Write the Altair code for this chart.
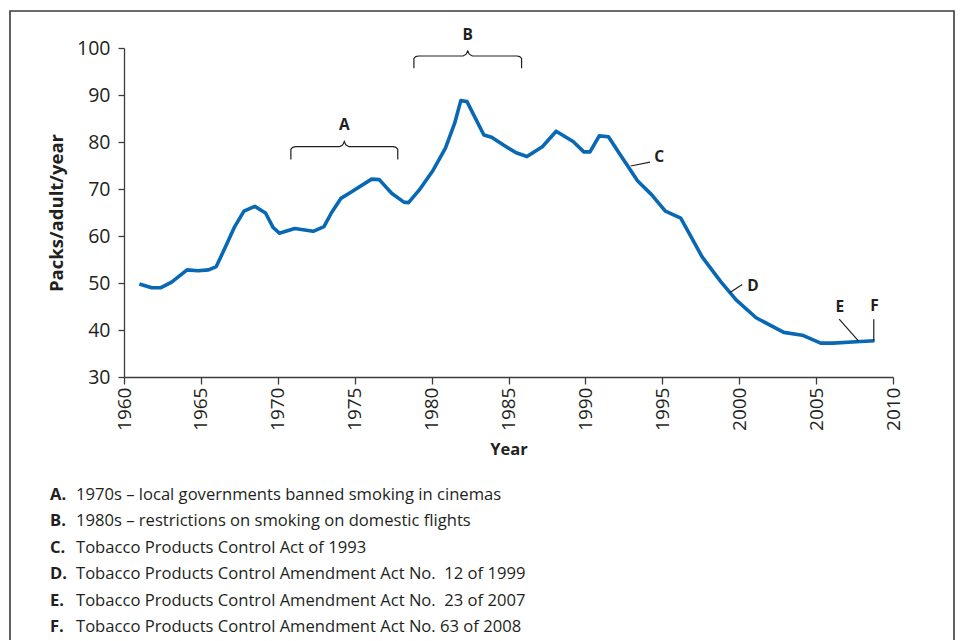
import altair as alt
import pandas as pd

# ---- series: cigarette consumption (packs per adult per year) ----
years = [1961.0, 1961.8, 1962.4, 1963.1, 1964.1, 1964.8, 1965.5, 1966.0, 1966.6, 1967.2,
         1967.8, 1968.5, 1969.2, 1969.7, 1970.1, 1971.1, 1972.3, 1973.0, 1973.5, 1974.1,
         1974.7, 1976.1, 1976.6, 1977.4, 1978.2, 1978.5, 1979.2, 1980.1, 1980.9, 1981.5,
         1981.9, 1982.3, 1983.4, 1983.9, 1984.7, 1985.5, 1986.2, 1987.2, 1988.1, 1989.2,
         1989.9, 1990.3, 1990.9, 1991.5, 1992.2, 1993.4, 1994.3, 1995.2, 1996.2, 1997.6,
         1998.8, 1999.8, 2001.1, 2002.9, 2004.1, 2005.3, 2006.1, 2007.6, 2008.8]
packs = [49.8, 49.0, 49.0, 50.2, 52.8, 52.6, 52.8, 53.5, 57.7, 62.0,
         65.3, 66.3, 64.9, 61.8, 60.6, 61.6, 61.0, 62.0, 65.0, 68.0,
         69.2, 72.1, 72.0, 69.1, 67.2, 67.1, 69.8, 74.0, 78.7, 84.0,
         88.8, 88.6, 81.5, 81.0, 79.3, 77.7, 76.9, 79.0, 82.3, 80.1,
         77.9, 77.9, 81.3, 81.1, 77.6, 71.7, 68.8, 65.3, 63.8, 55.5,
         50.3, 46.4, 42.6, 39.5, 38.9, 37.2, 37.2, 37.5, 37.7]

# ---- axis ticks ----
x_ticks = [1960, 1965, 1970, 1975, 1980, 1985, 1990, 1995, 2000, 2005, 2010]
y_ticks = [30, 40, 50, 60, 70, 80, 90, 100]

# ---- brace annotations (A, B) ----
brace_labels = ["A", "B"]
brace_start = [1970.85, 1978.85]
brace_end = [1977.8, 1985.85]
brace_foot = [76.3, 95.7]
brace_bar = [79.0, 98.3]
brace_tip = [80.1, 99.4]
brace_label_y = [83.6, 102.8]

# ---- leader annotations (C-F) ----
leader_labels = ["C", "D", "E", "F"]
leader_x1 = [1992.95, 1999.4, 2006.5, 2008.75]
leader_y1 = [74.9, 48.0, 42.3, 42.3]
leader_x2 = [1994.2, 2000.2, 2007.75, 2008.75]
leader_y2 = [75.7, 49.7, 37.7, 37.7]
leader_label_x = [1994.8, 2000.9, 2006.55, 2008.8]
leader_label_y = [76.8, 49.4, 45.0, 45.1]

# ---- footnote key ----
key_letters = ["A.", "B.", "C.", "D.", "E.", "F."]
key_texts = [
    "1970s \u2013 local governments banned smoking in cinemas",
    "1980s \u2013 restrictions on smoking on domestic flights",
    "Tobacco Products Control Act of 1993",
    "Tobacco Products Control Amendment Act No.\u00a0 12 of 1999",
    "Tobacco Products Control Amendment Act No.\u00a0 23 of 2007",
    "Tobacco Products Control Amendment Act No. 63 of 2008",
]

FONT = "Open Sans"
INK = "#231f20"
AXIS = "#3c3c3c"
BLUE = "#0868b4"

series = pd.DataFrame({"year": years, "packs": packs})

# brace polylines
rows = []
for lab, x0, x1, yf, yb, yt in zip(brace_labels, brace_start, brace_end, brace_foot, brace_bar, brace_tip):
    xc = (x0 + x1) / 2
    dyc = (yb - yf) * 0.2
    pts = [(x0, yf), (x0, yb - dyc), (x0 + 0.12, yb - dyc * 0.25), (x0 + 0.3, yb),
           (xc - 0.3, yb), (xc - 0.1, yb + (yt - yb) * 0.35), (xc, yt),
           (xc + 0.1, yb + (yt - yb) * 0.35), (xc + 0.3, yb),
           (x1 - 0.3, yb), (x1 - 0.12, yb - dyc * 0.25), (x1, yb - dyc), (x1, yf)]
    for i, (px, py) in enumerate(pts):
        rows.append({"brace": lab, "order": i, "bx": px, "by": py})
braces = pd.DataFrame(rows)
brace_lbl = pd.DataFrame({"label": brace_labels,
                          "lx": [(a + b) / 2 for a, b in zip(brace_start, brace_end)],
                          "ly": brace_label_y})
leaders = pd.DataFrame({"label": leader_labels, "x1": leader_x1, "y1": leader_y1,
                        "x2": leader_x2, "y2": leader_y2,
                        "lx": leader_label_x, "ly": leader_label_y})
key = pd.DataFrame({"letter": key_letters, "text": key_texts, "row": list(range(len(key_texts)))})

xscale = alt.Scale(domain=[1960, 2010], nice=False, zero=False)
yscale = alt.Scale(domain=[30, 100], nice=False, zero=False)

line = alt.Chart(series).mark_line(color=BLUE, strokeWidth=3.6, strokeJoin="round").encode(
    x=alt.X("year:Q", scale=xscale,
            axis=alt.Axis(values=x_ticks, format="d", labelAngle=-90, title="Year",
                          titlePadding=11, titleFontSize=16.5, labelPadding=3)),
    y=alt.Y("packs:Q", scale=yscale,
            axis=alt.Axis(values=y_ticks, format="d", title="Packs/adult/year",
                          titlePadding=10, titleFontSize=18.5, labelPadding=8,
                          labelFontSize=19.5)),
)

brace_lines = alt.Chart(braces).mark_line(color=INK, strokeWidth=1.2).encode(
    x="bx:Q", y="by:Q", detail="brace:N", order="order:Q")

brace_text = alt.Chart(brace_lbl).mark_text(font=FONT, fontWeight="bold", fontSize=15.5,
                                            color=INK, baseline="middle").encode(
    x="lx:Q", y="ly:Q", text="label:N")

leader_rules = alt.Chart(leaders).mark_rule(color=INK, strokeWidth=1.2).encode(
    x="x1:Q", y="y1:Q", x2="x2:Q", y2="y2:Q")

leader_text = alt.Chart(leaders).mark_text(font=FONT, fontWeight="bold", fontSize=15.5,
                                           color=INK, baseline="middle").encode(
    x="lx:Q", y="ly:Q", text="label:N")

main = alt.layer(line, brace_lines, brace_text, leader_rules, leader_text)

key_y = alt.Y("row:Q", scale=alt.Scale(domain=[0, 5], range=[447, 579]), axis=None)
key_letter = alt.Chart(key).mark_text(font=FONT, fontWeight="bold", fontSize=16.6, color=INK,
                                      align="left", baseline="middle").encode(
    x=alt.value(-74), y=key_y, text="letter:N")
key_text = alt.Chart(key).mark_text(font=FONT, fontSize=16.6, color=INK,
                                    align="left", baseline="middle").encode(
    x=alt.value(-48), y=key_y, text="text:N")

border = alt.Chart(pd.DataFrame({"k": [0]})).mark_rect(
    fill=None, stroke="#3a3a3a", strokeWidth=1.6).encode(
    x=alt.value(-114), x2=alt.value(830), y=alt.value(-37), y2=alt.value(700))

chart = alt.layer(main, key_letter, key_text, border).resolve_scale(y="independent").properties(
    width=769, height=329,
    autosize=alt.AutoSizeParams(type="none"),
    padding={"left": 116, "top": 40, "right": 62, "bottom": 263},
).configure_view(strokeWidth=0).configure_axis(
    labelFont=FONT, titleFont=FONT, labelFontSize=19, titleFontSize=16,
    titleFontWeight="bold", labelColor=INK, titleColor=INK,
    domainColor=AXIS, tickColor=AXIS, domainWidth=1.3, tickWidth=1.3,
    grid=False,
).configure_axisX(tickSize=7).configure_axisY(tickSize=6)

chart.save("out.html", embed_options={"renderer": "svg", "actions": False})
